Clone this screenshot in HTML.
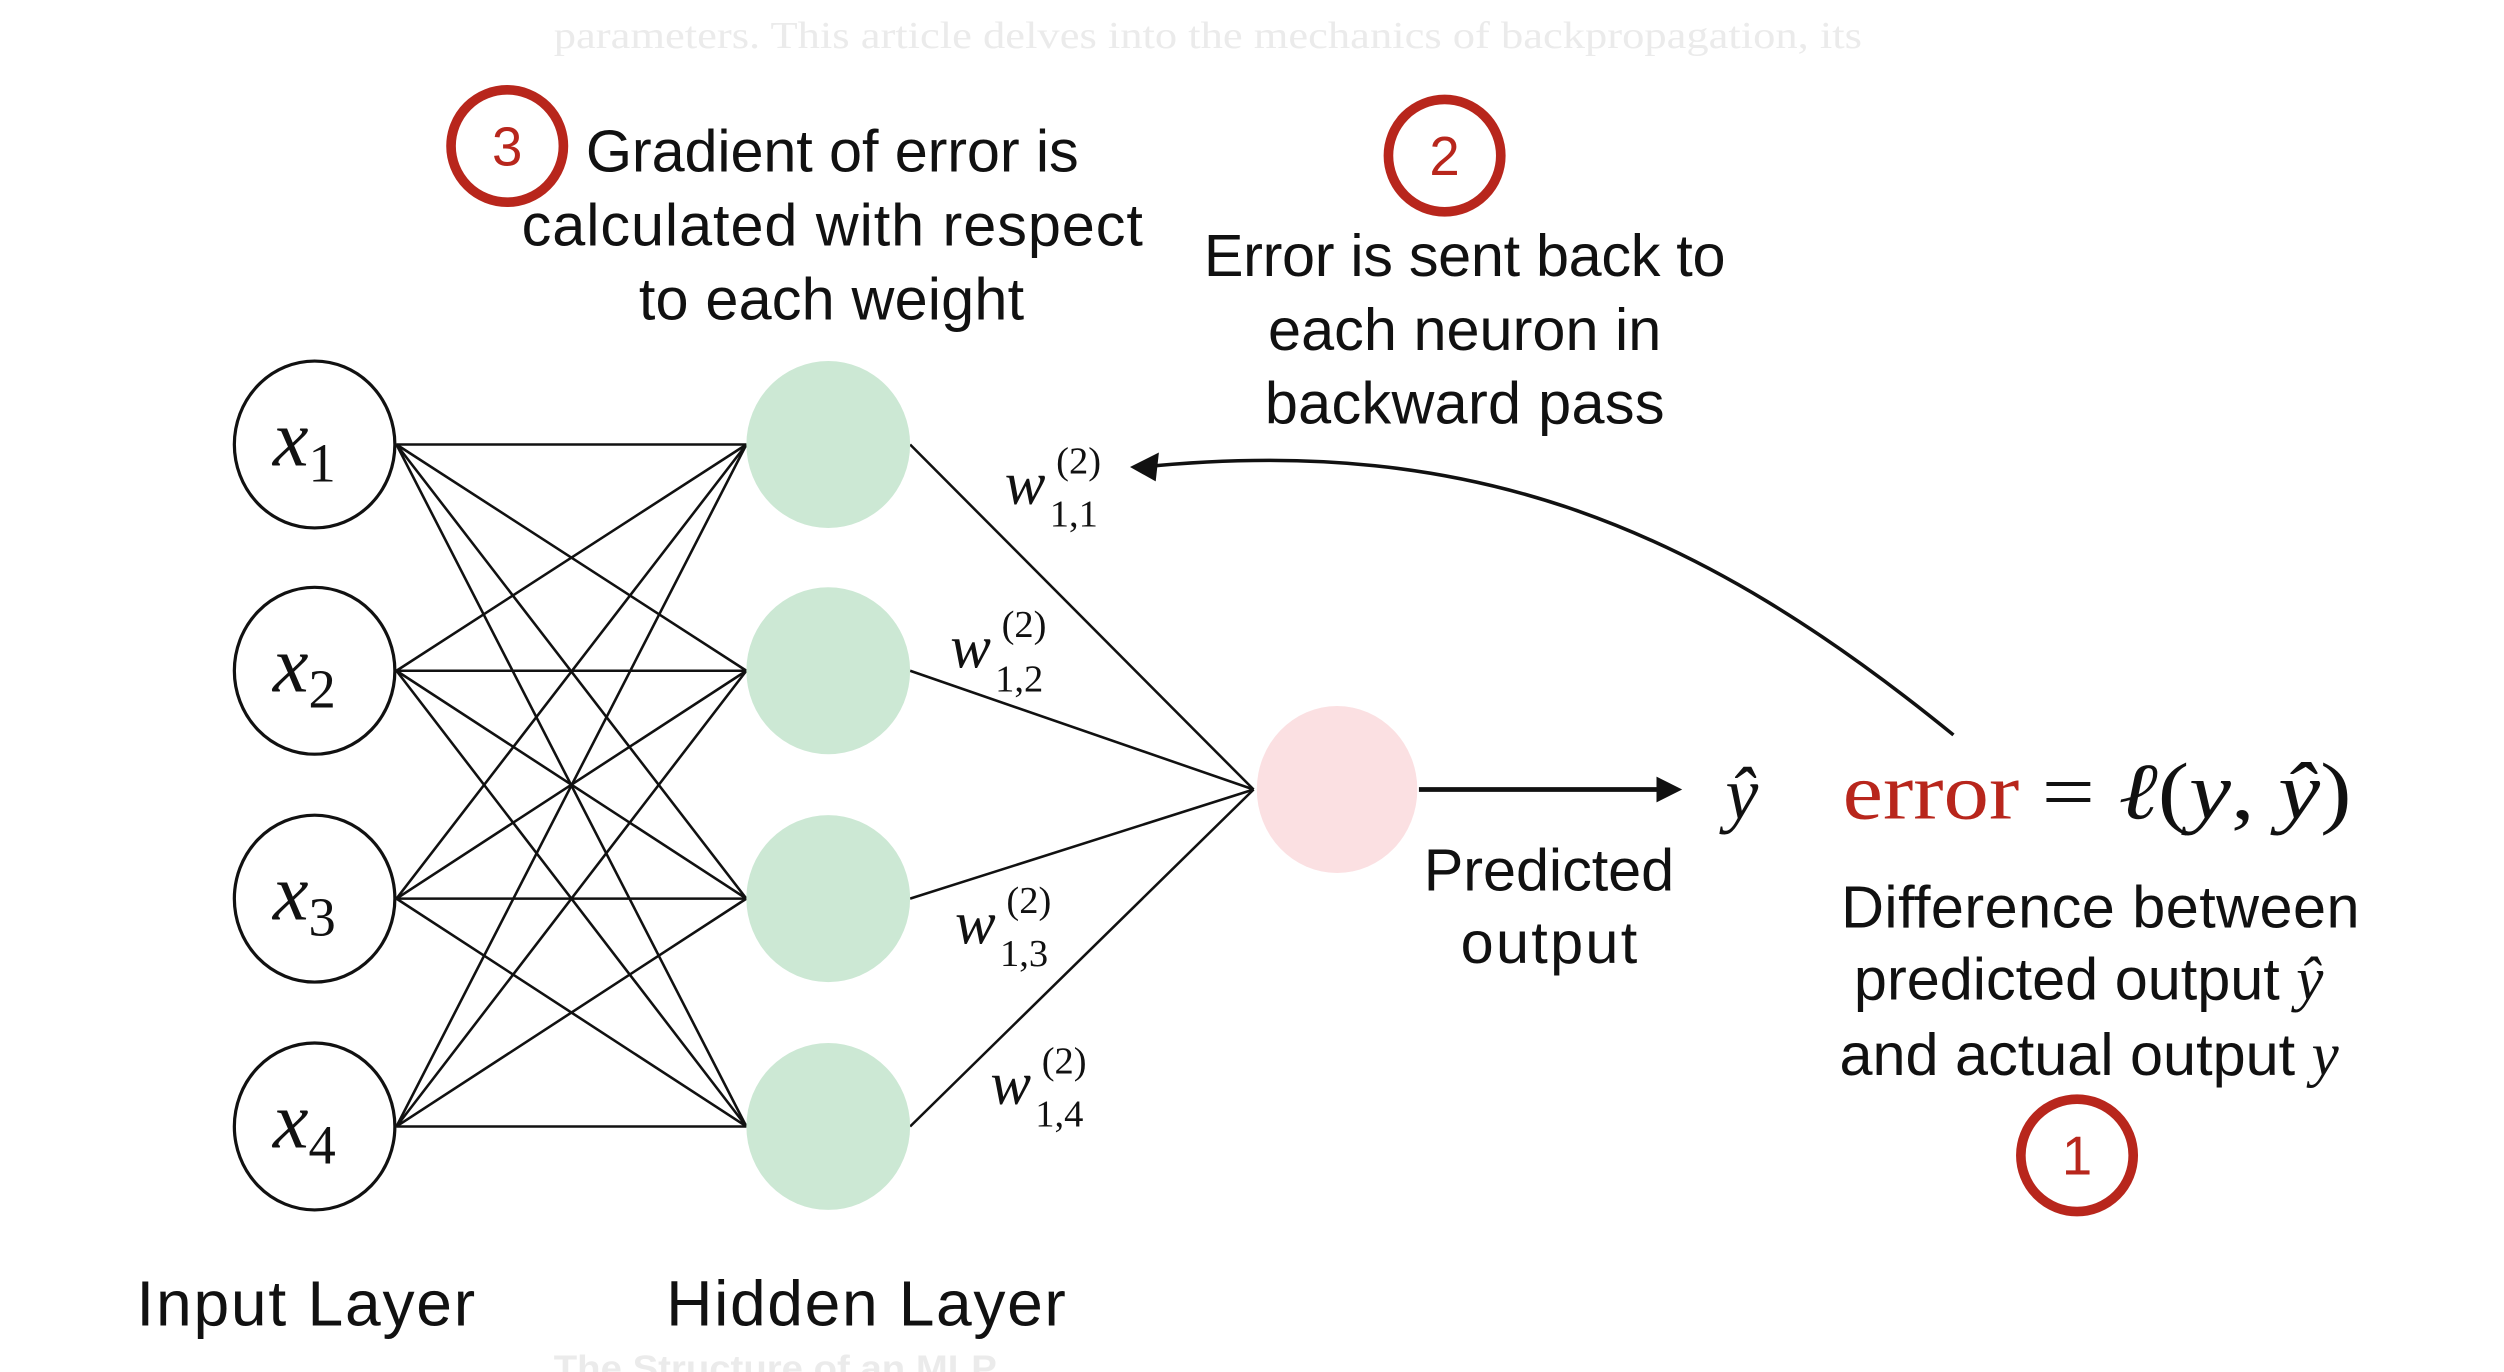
<!DOCTYPE html>
<html><head><meta charset="utf-8"><style>
html,body{margin:0;padding:0;background:#fff;}
svg{display:block;}
.s{font-family:"Liberation Sans",sans-serif;font-size:37px;fill:#111;}
.m{font-family:"Liberation Serif",serif;font-style:italic;fill:#111;}
</style></head><body>
<svg width="2504" height="1372" viewBox="0 0 1560 855" preserveAspectRatio="none" xmlns="http://www.w3.org/2000/svg">
<text x="345" y="30" textLength="815" lengthAdjust="spacingAndGlyphs" font-family="Liberation Serif,serif" font-size="24" fill="#ebebeb">parameters. This article delves into the mechanics of backpropagation, its</text>
<text x="345" y="860" textLength="276" lengthAdjust="spacingAndGlyphs" font-family="Liberation Sans,sans-serif" font-size="22" font-weight="bold" fill="#ebebeb">The Structure of an MLP</text>
<g stroke="#111" stroke-width="1.6" fill="none">
<line x1="247" y1="277" x2="465" y2="277"/><line x1="247" y1="277" x2="465" y2="418"/><line x1="247" y1="277" x2="465" y2="560"/><line x1="247" y1="277" x2="465" y2="702"/>
<line x1="247" y1="418" x2="465" y2="277"/><line x1="247" y1="418" x2="465" y2="418"/><line x1="247" y1="418" x2="465" y2="560"/><line x1="247" y1="418" x2="465" y2="702"/>
<line x1="247" y1="560" x2="465" y2="277"/><line x1="247" y1="560" x2="465" y2="418"/><line x1="247" y1="560" x2="465" y2="560"/><line x1="247" y1="560" x2="465" y2="702"/>
<line x1="247" y1="702" x2="465" y2="277"/><line x1="247" y1="702" x2="465" y2="418"/><line x1="247" y1="702" x2="465" y2="560"/><line x1="247" y1="702" x2="465" y2="702"/>
<line x1="567" y1="277" x2="781" y2="492"/><line x1="567" y1="418" x2="781" y2="492"/><line x1="567" y1="560" x2="781" y2="492"/><line x1="567" y1="702" x2="781" y2="492"/>
<path d="M1217 458 C1060 330 920 270 712 291" stroke-width="2.2"/>
<line x1="884" y1="492" x2="1035" y2="492" stroke-width="3"/>
</g>
<polygon points="704,291 722,282 720,300" fill="#111"/>
<polygon points="1048,492 1032,484 1032,500" fill="#111"/>
<g fill="#fff" stroke="#111" stroke-width="2">
<ellipse cx="196" cy="277" rx="50" ry="52"/><ellipse cx="196" cy="418" rx="50" ry="52"/><ellipse cx="196" cy="560" rx="50" ry="52"/><ellipse cx="196" cy="702" rx="50" ry="52"/>
</g>
<g fill="#cce8d4">
<ellipse cx="516" cy="277" rx="51" ry="52"/><ellipse cx="516" cy="418" rx="51" ry="52"/><ellipse cx="516" cy="560" rx="51" ry="52"/><ellipse cx="516" cy="702" rx="51" ry="52"/>
</g>
<ellipse cx="833" cy="492" rx="50" ry="52" fill="#fbe0e2"/>
<g class="m" font-size="50">
<text x="170" y="290">x<tspan font-size="34" font-style="normal" dy="10">1</tspan></text>
<text x="170" y="431">x<tspan font-size="34" font-style="normal" dy="10">2</tspan></text>
<text x="170" y="573">x<tspan font-size="34" font-style="normal" dy="10">3</tspan></text>
<text x="170" y="715">x<tspan font-size="34" font-style="normal" dy="10">4</tspan></text>
</g>
<g class="m" font-size="38">
<text x="626" y="314">w</text><text x="658" y="295" font-size="24" font-style="normal">(2)</text><text x="654" y="328" font-size="24" font-style="normal">1,1</text>
<text x="592" y="416">w</text><text x="624" y="397" font-size="24" font-style="normal">(2)</text><text x="620" y="431" font-size="24" font-style="normal">1,2</text>
<text x="595" y="588">w</text><text x="627" y="569" font-size="24" font-style="normal">(2)</text><text x="623" y="602" font-size="24" font-style="normal">1,3</text>
<text x="617" y="688">w</text><text x="649" y="669" font-size="24" font-style="normal">(2)</text><text x="645" y="702" font-size="24" font-style="normal">1,4</text>
<text x="1075" y="510" font-size="46">ŷ</text>
</g>
<text x="1148" y="510" textLength="110" lengthAdjust="spacingAndGlyphs" font-family="Liberation Serif,serif" font-size="50" fill="#b8261c">error</text>
<text x="1272" y="510" textLength="193" lengthAdjust="spacingAndGlyphs" font-family="Liberation Serif,serif" font-size="50" fill="#111">= <tspan font-style="italic">ℓ</tspan>(<tspan font-style="italic">y</tspan>, <tspan font-style="italic">ŷ</tspan>)</text>
<g class="s" lengthAdjust="spacingAndGlyphs">
<text x="365" y="107" textLength="307">Gradient of error is</text>
<text x="325" y="153" textLength="387">calculated with respect</text>
<text x="398" y="199" textLength="240">to each weight</text>
<text x="750" y="172" textLength="325">Error is sent back to</text>
<text x="790" y="218" textLength="245">each neuron in</text>
<text x="788" y="264" textLength="249">backward pass</text>
<text x="887" y="555" textLength="156">Predicted</text>
<text x="910" y="600" textLength="110">output</text>
<text x="1147" y="578" textLength="323">Difference between</text>
<text x="1155" y="623">predicted output <tspan class="m" font-size="38">ŷ</tspan></text>
<text x="1146" y="670">and actual output <tspan class="m" font-size="38">y</tspan></text>
<text x="85" y="826" font-size="40" textLength="211">Input Layer</text>
<text x="415" y="826" font-size="40" textLength="249">Hidden Layer</text>
</g>
<g fill="none" stroke="#b8261c" stroke-width="6">
<circle cx="316" cy="91" r="35"/><circle cx="900" cy="97" r="35"/><circle cx="1294" cy="720" r="35"/>
</g>
<g font-family="Liberation Sans,sans-serif" font-size="34" fill="#b8261c" text-anchor="middle">
<text x="316" y="103">3</text><text x="900" y="109">2</text><text x="1294" y="732">1</text>
</g>
</svg>
</body></html>
